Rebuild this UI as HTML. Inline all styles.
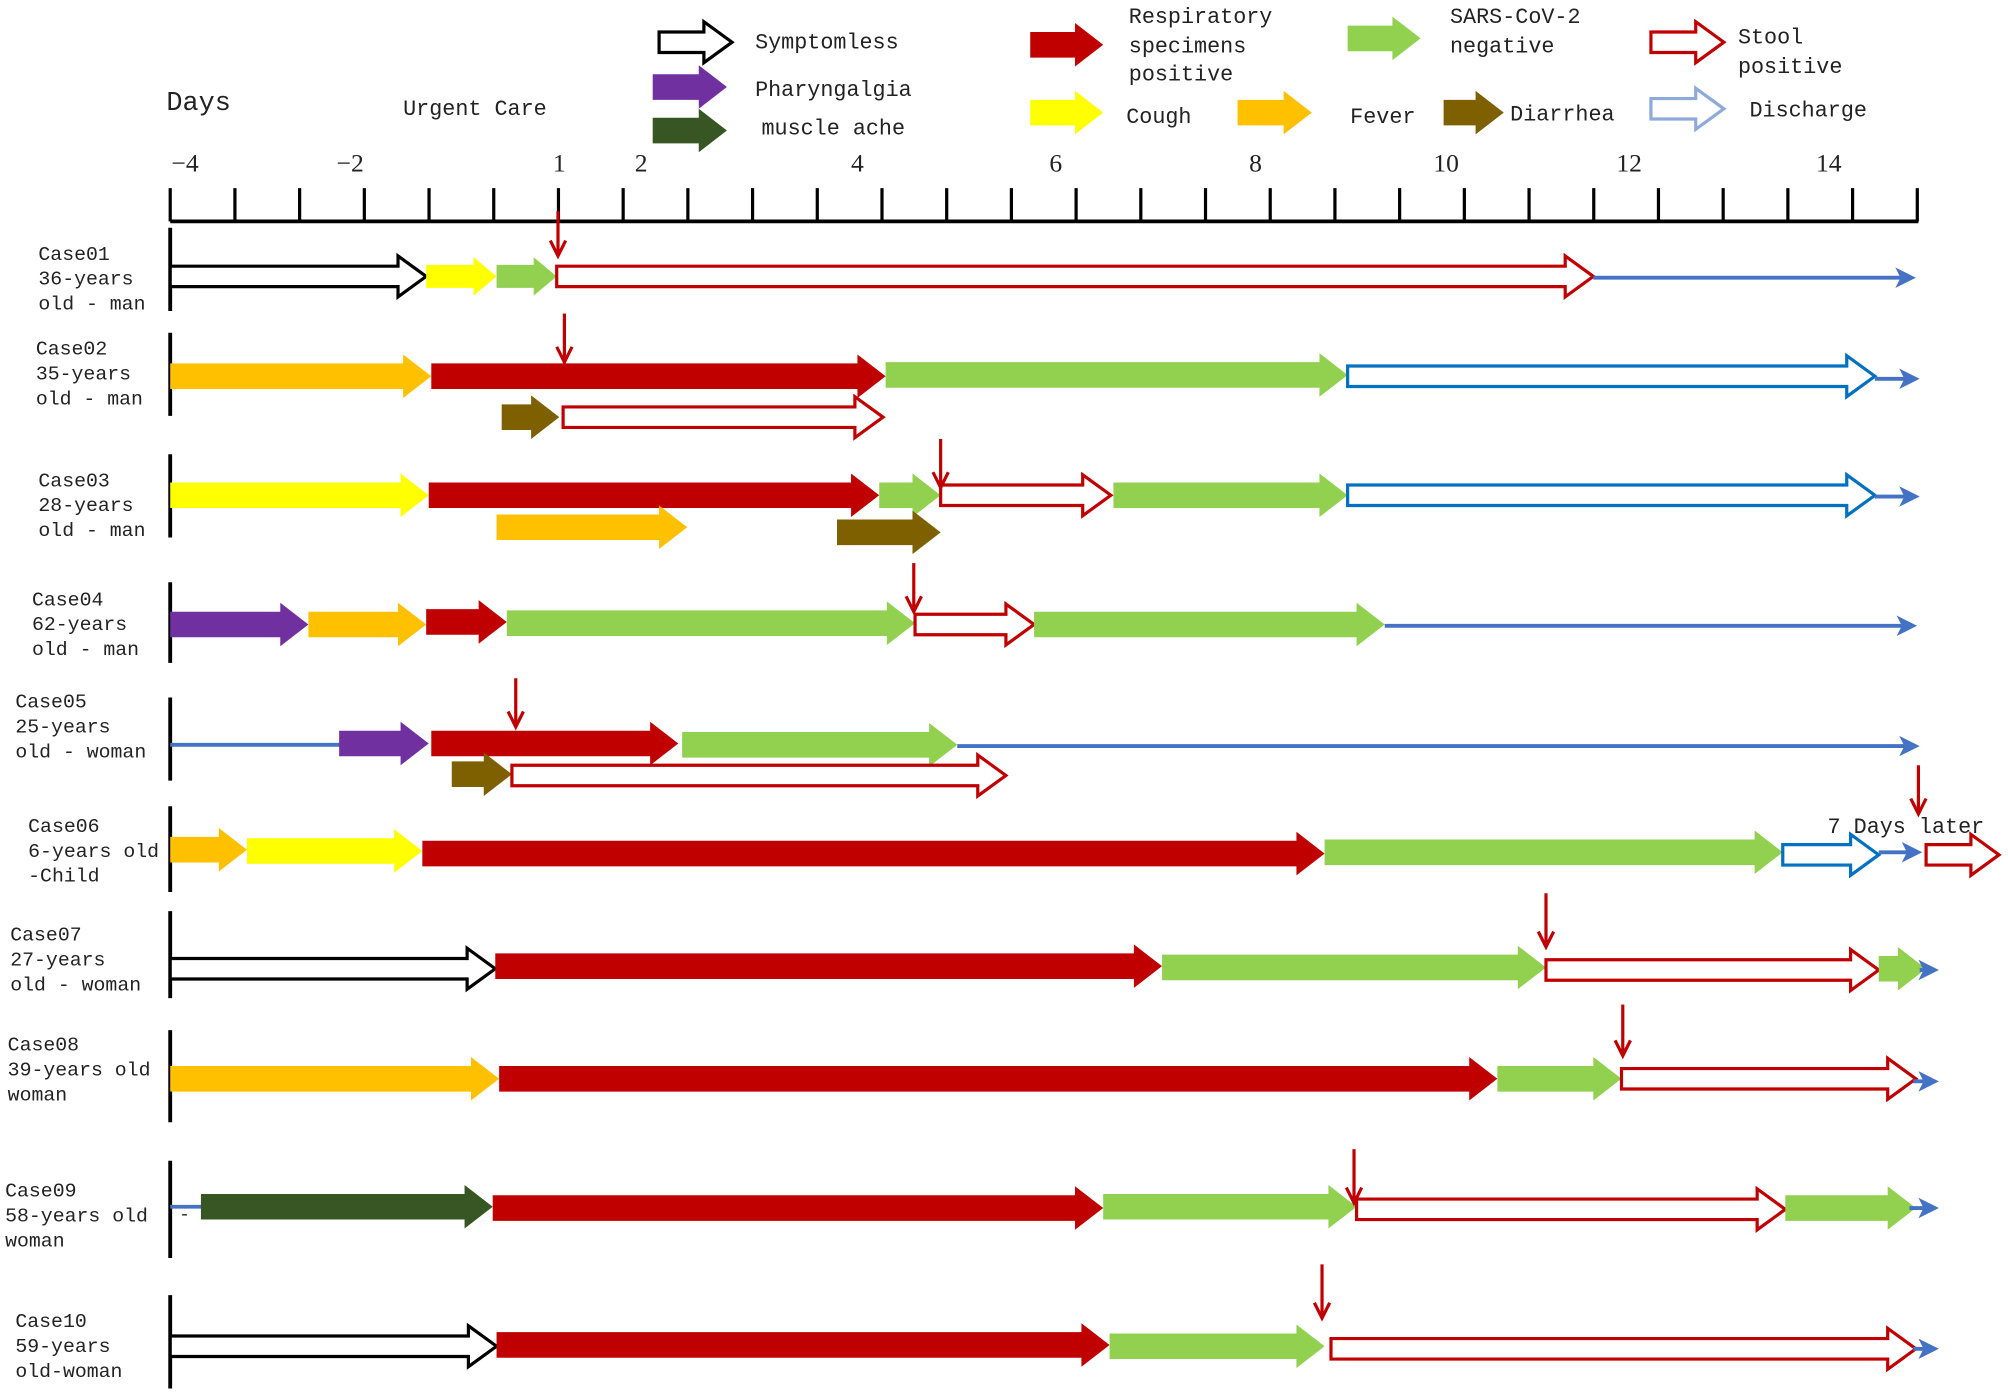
<!DOCTYPE html>
<html><head><meta charset="utf-8"><style>
html,body{margin:0;padding:0;background:#fff;}
svg{display:block;}
text{font-family:"Liberation Mono","Noto Sans CJK SC",monospace;fill:#222;}
text.n{font-family:"Liberation Serif",serif;}
</style></head><body>
<svg id="s" width="2008" height="1400" viewBox="0 0 1569 1094" preserveAspectRatio="none" xmlns="http://www.w3.org/2000/svg">
<rect width="1569" height="1094" fill="#fff"/>
<g id="g"></g>
</svg>
<script>
var g=document.getElementById('g'),h='';
var C={r:'#c00000',gr:'#92d050',o:'#ffc000',y:'#ffff00',p:'#7030a0',dg:'#375623',b:'#7f6000',bl:'#4472c4',bo:'#0070c0',k:'#000'};
function arr(x1,x2,y,fill,stroke,b,hh,L){b=b||10;hh=hh||17;L=L||22;
 var p=[[x1,y-b],[x2-L,y-b],[x2-L,y-hh],[x2,y],[x2-L,y+hh],[x2-L,y+b],[x1,y+b]].map(function(a){return a.join(',')}).join(' ');
 if(stroke) h+='<polygon points="'+p+'" fill="#fff" stroke="'+stroke+'" stroke-width="2.5"/>';
 else h+='<polygon points="'+p+'" fill="'+fill+'"/>';}
function F(x1,x2,y,c){arr(x1,x2,y,c);}
function O(x1,x2,y,c){arr(x1,x2,y,null,c,8,16,22);}
function line(x1,x2,y,nohead){h+='<line x1="'+x1+'" y1="'+y+'" x2="'+(nohead?x2:x2-4)+'" y2="'+y+'" stroke="'+C.bl+'" stroke-width="3"/>';if(!nohead)h+='<polygon points="'+(x2-16)+','+(y-8)+' '+x2+','+y+' '+(x2-16)+','+(y+8)+' '+(x2-12)+','+y+'" fill="'+C.bl+'"/>';}
function down(x,y1,y2){h+='<line x1="'+x+'" y1="'+y1+'" x2="'+x+'" y2="'+(y2-3)+'" stroke="'+C.r+'" stroke-width="2.5"/><polyline points="'+(x-6)+','+(y2-12)+' '+x+','+y2+' '+(x+6)+','+(y2-12)+'" fill="none" stroke="'+C.r+'" stroke-width="2.5"/>';}
function vbar(y1,y2){h+='<line x1="133" y1="'+y1+'" x2="133" y2="'+y2+'" stroke="#000" stroke-width="3"/>';}
function t(x,y,s,fs,cls){h+='<text '+(cls?'class="'+cls+'" ':'')+'x="'+x+'" y="'+y+'" font-size="'+(fs||16)+'">'+s+'</text>';}
function lab(x,y,a){for(var i=0;i<a.length;i++)t(x,y+i*19.5,a[i],15.5);}
h+='<line x1="133" y1="173" x2="1499" y2="173" stroke="#000" stroke-width="3"/>';
for(var i=0;i<=27;i++){var x=133+i*50.56;h+='<line x1="'+x+'" y1="147" x2="'+x+'" y2="173" stroke="#000" stroke-width="2.5"/>';}
[['−4',134],['−2',263],['1',432],['2',496],['4',665],['6',820],['8',976],['10',1120],['12',1263],['14',1419]].forEach(function(a){t(a[1],134,a[0],20,'n');});
t(130,86,'Days',21);t(315,90,'Urgent Care',17);
O(515,572,33,C.k);t(590,38,'Symptomless',17);
F(510,568,68,C.p);t(590,75,'Pharyngalgia',17);
F(510,568,102,C.dg);t(595,105,'muscle ache',17);
F(805,862,35,C.r);t(882,18,'Respiratory',17);t(882,41,'specimens',17);t(882,63,'positive',17);
F(805,862,88,C.y);t(880,96,'Cough',17);
F(967,1025,88,C.o);t(1055,96,'Fever',17);
F(1053,1110,30,C.gr);t(1133,18,'SARS-CoV-2',17);t(1133,41,'negative',17);
F(1128,1175,88,C.b);t(1180,94,'Diarrhea',17);
O(1290,1347,33,C.r);t(1358,34,'Stool',17);t(1358,57,'positive',17);
O(1290,1347,85,'#8eaadb');t(1367,91,'Discharge',17);
vbar(178,243);lab(30,203,['Case01','36-years','old - man']);
O(133,333,216,C.k);arr(333,388,216,C.y,null,9,15,18);arr(388,435,216,C.gr,null,9,15,18);O(435,1245,216,C.r);line(1245,1497,217);down(436,165,200);
vbar(260,325);lab(28,277,['Case02','35-years','old - man']);
F(133,337,294,C.o);F(337,692,294,C.r);F(692,1053,293,C.gr);O(1053,1465,294,C.bo);line(1465,1500,296);
F(392,437,326,C.b);O(440,690,326,C.r);down(441,245,283);
vbar(355,420);lab(30,380,['Case03','28-years','old - man']);
F(133,335,387,C.y);F(335,687,387,C.r);F(687,735,387,C.gr);O(735,868,387,C.r);F(870,1053,387,C.gr);O(1053,1465,387,C.bo);line(1465,1500,388);
F(388,537,412,C.o);F(654,735,416,C.b);down(735,343,381);
vbar(455,518);lab(25,473,['Case04','62-years','old - man']);
F(133,241,488,C.p);F(241,333,488,C.o);F(333,396,486,C.r);F(396,715,487,C.gr);O(715,808,488,C.r);F(808,1082,488,C.gr);line(1082,1498,489);down(714,440,478);
vbar(545,610);lab(12,553,['Case05','25-years','old - woman']);
line(133,268,582,1);F(265,335,581,C.p);F(337,530,581,C.r);F(533,748,582,C.gr);line(748,1500,583);
F(353,400,605,C.b);O(400,786,606,C.r);down(403,530,568);
vbar(630,697);lab(22,650,['Case06','6-years old','-Child']);
F(133,193,664,C.o);F(193,330,665,C.y);F(330,1035,667,C.r);F(1035,1393,666,C.gr);O(1393,1468,668,C.bo);line(1468,1502,666);O(1505,1562,668,C.r);
t(1428,651,'7 Days later',17);down(1499,598,636);
vbar(712,780);lab(8,735,['Case07','27-years','old - woman']);
O(133,387,757,C.k);F(387,908,755,C.r);F(908,1208,756,C.gr);O(1208,1468,758,C.r);F(1468,1505,757,C.gr);line(1500,1515,758);down(1208,698,740);
vbar(805,877);lab(6,821,['Case08','39-years old','woman']);t(140,840,'-',14);
F(133,390,843,C.o);F(390,1170,843,C.r);F(1170,1267,843,C.gr);O(1267,1497,843,C.r);line(1495,1515,845);down(1268,785,825);
vbar(907,983);lab(4,935,['Case09','58-years old','woman']);t(140,953,'-',14);
line(133,160,943,1);F(157,385,943,C.dg);F(385,862,944,C.r);F(862,1060,943,C.gr);O(1060,1395,945,C.r);F(1395,1497,944,C.gr);line(1492,1515,944);down(1058,898,940);
vbar(1012,1085);lab(12,1037,['Case10','59-years','old-woman']);
O(133,388,1052,C.k);F(388,867,1051,C.r);F(867,1035,1052,C.gr);O(1040,1497,1054,C.r);line(1495,1515,1054);down(1033,988,1030);
g.innerHTML=h;
</script>
</body></html>
